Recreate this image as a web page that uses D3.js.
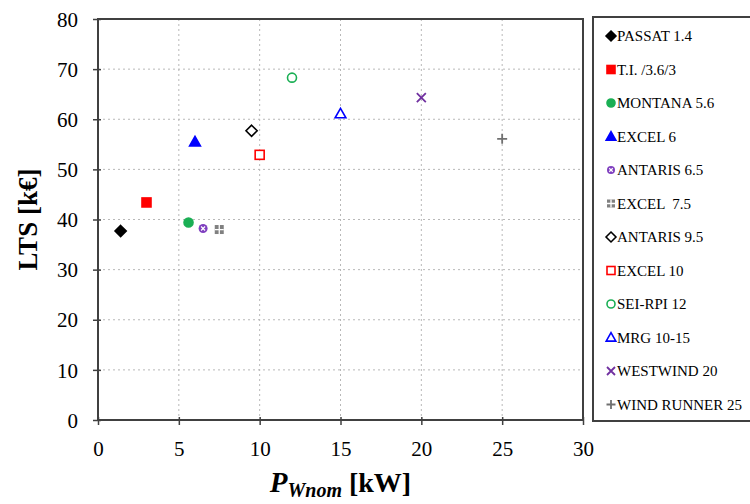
<!DOCTYPE html>
<style>
body { margin: 0; background: #fff; }
text { font-family: "Liberation Serif", "Times New Roman", serif; fill: #000; }
.grid line { stroke: #b8b8b8; stroke-dasharray: 2,3; stroke-width: 1; }
.axis path { display: none; }
.axis line { stroke: #404040; stroke-width: 1.5; }
.axis text { font-size: 21px; }
</style>
<svg width="750" height="504"></svg>
<script src="https://d3js.org/d3.v7.min.js"></script>
<script>

var names = ["PASSAT 1.4", "T.I. /3.6/3", "MONTANA 5.6", "EXCEL 6", "ANTARIS 6.5", "EXCEL  7.5",
             "ANTARIS 9.5", "EXCEL 10", "SEI-RPI 12", "MRG 10-15", "WESTWIND 20", "WIND RUNNER 25"];
var power = [1.4, 3, 5.6, 6, 6.5, 7.5, 9.5, 10, 12, 15, 20, 25];
var lts   = [37.7, 43.4, 39.4, 55.5, 38.2, 38, 57.7, 52.9, 68.3, 61.1, 64.3, 56.1];
var xTicks = [0, 5, 10, 15, 20, 25, 30];
var yTicks = [0, 10, 20, 30, 40, 50, 60, 70, 80];

// marker style per series (shape, colour, filled)
var markers = [
  {shape: "diamond", color: "#000000", fill: true},
  {shape: "square", color: "#ff0000", fill: true},
  {shape: "circle", color: "#1aaf54", fill: true},
  {shape: "triangle", color: "#0000ff", fill: true},
  {shape: "circlex", color: "#7f3fbf", fill: true},
  {shape: "grid", color: "#808080", fill: true},
  {shape: "diamond", color: "#000000", fill: false},
  {shape: "square", color: "#ff0000", fill: false},
  {shape: "circle", color: "#1aaf54", fill: false},
  {shape: "triangle", color: "#0000ff", fill: false},
  {shape: "x", color: "#7030a0", fill: false},
  {shape: "plus", color: "#707070", fill: false}
];

var svg = d3.select("svg"),
    margin = {top: 19, left: 98, right: 167, bottom: 84},
    width = +svg.attr("width") - margin.left - margin.right,
    height = +svg.attr("height") - margin.top - margin.bottom;

var x = d3.scaleLinear().domain([0, 30]).range([0, width]);
var y = d3.scaleLinear().domain([0, 80]).range([height, 0]);

var g = svg.append("g")
    .attr("transform", "translate(" + margin.left + "," + margin.top + ")");

// grid
g.append("g").attr("class", "grid")
  .selectAll("line").data(xTicks.slice(1, -1)).join("line")
    .attr("x1", d => x(d)).attr("x2", d => x(d))
    .attr("y1", 0).attr("y2", height);
g.append("g").attr("class", "grid")
  .selectAll("line").data(yTicks.slice(1, -1)).join("line")
    .attr("y1", d => y(d)).attr("y2", d => y(d))
    .attr("x1", 0).attr("x2", width);

// frame
g.append("rect")
    .attr("width", width).attr("height", height)
    .attr("fill", "none").attr("stroke", "#404040").attr("stroke-width", 2);

var xAxis = g.append("g").attr("class", "axis")
    .attr("transform", "translate(0," + height + ")")
    .call(d3.axisBottom(x).tickValues(xTicks).tickSize(5).tickPadding(16));
xAxis.selectAll(".tick line").attr("y1", -3);

var yAxis = g.append("g").attr("class", "axis")
    .call(d3.axisLeft(y).tickValues(yTicks).tickSize(5).tickPadding(15));
yAxis.selectAll(".tick line").attr("x1", 3);
yAxis.selectAll(".tick text").attr("dy", "0.34em");

// axis titles
svg.append("text")
    .attr("transform", "translate(37," + (margin.top + y(40)) + ") rotate(-90)")
    .attr("text-anchor", "middle")
    .style("font-size", "27px").style("font-weight", "bold")
    .text("LTS [k\u20ac]");

var xt = svg.append("text")
    .attr("x", margin.left + x(15)).attr("y", 492)
    .attr("text-anchor", "middle")
    .style("font-weight", "bold");
xt.append("tspan").style("font-size", "29px").style("font-style", "italic").text("P");
xt.append("tspan").style("font-size", "20px").style("font-style", "italic").attr("dy", 5).text("Wnom");
xt.append("tspan").style("font-size", "28px").attr("dy", -5).text(" [kW]");

function drawMarker(sel, m, s) {
  var fill = m.fill ? m.color : "#fff";
  var sw = 1.6;
  if (m.shape === "diamond") {
    var d = s * 0.62;
    sel.append("path").attr("d", "M0," + -d + "L" + d + ",0L0," + d + "L" + -d + ",0Z")
      .attr("fill", fill).attr("stroke", m.color).attr("stroke-width", sw);
  } else if (m.shape === "square") {
    sel.append("rect").attr("x", -s / 2).attr("y", -s / 2).attr("width", s).attr("height", s)
      .attr("fill", fill).attr("stroke", m.color).attr("stroke-width", sw);
  } else if (m.shape === "circle") {
    sel.append("circle").attr("r", s / 2)
      .attr("fill", fill).attr("stroke", m.color).attr("stroke-width", sw);
  } else if (m.shape === "triangle") {
    var t = s * 0.6;
    sel.append("path").attr("d", "M0," + -t + "L" + t + "," + t * 0.75 + "L" + -t + "," + t * 0.75 + "Z")
      .attr("fill", fill).attr("stroke", m.color).attr("stroke-width", sw);
  } else if (m.shape === "circlex") {
    sel.append("circle").attr("r", s / 2).attr("fill", m.color);
    var k = s * 0.22;
    sel.append("path").attr("d", "M" + -k + "," + -k + "L" + k + "," + k + "M" + -k + "," + k + "L" + k + "," + -k)
      .attr("stroke", "#fff").attr("stroke-width", 1.2);
  } else if (m.shape === "grid") {
    sel.append("rect").attr("x", -s / 2).attr("y", -s / 2).attr("width", s).attr("height", s)
      .attr("fill", m.color);
    sel.append("path").attr("d", "M0," + -s / 2 + "V" + s / 2 + "M" + -s / 2 + ",0H" + s / 2)
      .attr("stroke", "#fff").attr("stroke-width", 1.3);
  } else if (m.shape === "x") {
    var h = s / 2;
    sel.append("path").attr("d", "M" + -h + "," + -h + "L" + h + "," + h + "M" + -h + "," + h + "L" + h + "," + -h)
      .attr("stroke", m.color).attr("stroke-width", 1.8);
  } else if (m.shape === "plus") {
    var p = s / 2 + 0.5;
    sel.append("path").attr("d", "M0," + -p + "V" + p + "M" + -p + ",0H" + p)
      .attr("stroke", m.color).attr("stroke-width", 1.8);
  }
}

// points
names.forEach(function(n, i) {
  var pt = g.append("g").attr("transform", "translate(" + x(power[i]) + "," + y(lts[i]) + ")");
  drawMarker(pt, markers[i], 9);
});

// legend
var leg = svg.append("g");
leg.append("rect")
    .attr("x", 593).attr("y", 17).attr("width", 170).attr("height", 404)
    .attr("fill", "#fff").attr("stroke", "#404040").attr("stroke-width", 2);

names.forEach(function(n, i) {
  var row = leg.append("g").attr("transform", "translate(611," + (36 + i * 33.5) + ")");
  drawMarker(row, markers[i], 8);
  row.append("text").attr("x", 6).attr("dy", "0.35em")
    .style("font-size", "15px")
    .attr("xml:space", "preserve")
    .text(n);
});

</script>
